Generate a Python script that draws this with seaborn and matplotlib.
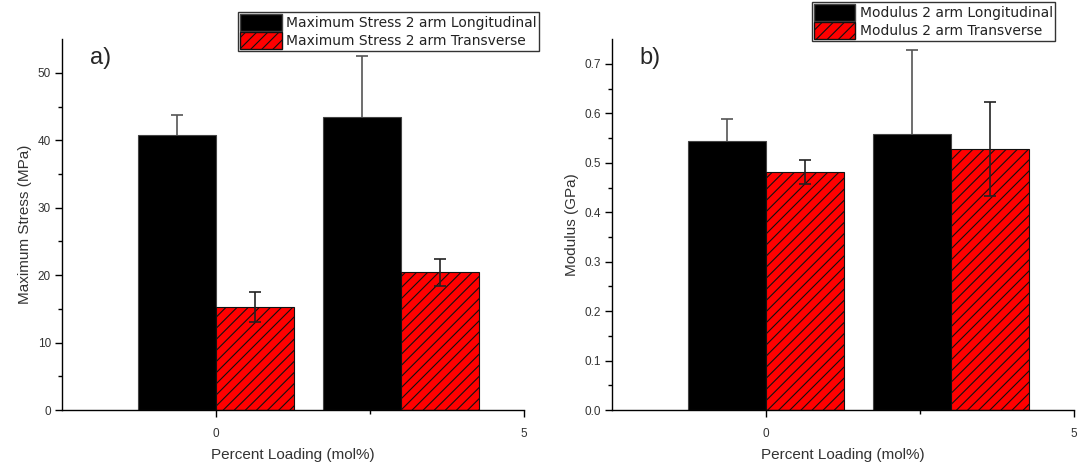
import numpy as np
import pandas as pd
import matplotlib
matplotlib.use("Agg")
import matplotlib.pyplot as plt
import seaborn as sns
from matplotlib.patches import Patch

# data
group_pos = [0, 3]            # where Origin placed the two groups on the loading axis
directions = ["Longitudinal", "Transverse"]

stress_mean = {"Longitudinal": [40.8, 43.5], "Transverse": [15.3, 20.4]}
stress_sd = {"Longitudinal": [3.0, 9.0], "Transverse": [2.2, 2.0]}

modulus_mean = {"Longitudinal": [0.545, 0.559], "Transverse": [0.482, 0.528]}
modulus_sd = {"Longitudinal": [0.043, 0.170], "Transverse": [0.024, 0.095]}

x_ticks = [0, 5]
stress_ticks = [0, 10, 20, 30, 40, 50]
modulus_ticks = [0.0, 0.1, 0.2, 0.3, 0.4, 0.5, 0.6, 0.7]


def to_frame(means, sds):
    rows = []
    for d in directions:
        for p, m, s in zip(group_pos, means[d], sds[d]):
            rows.append({"pos": p, "direction": d, "value": m, "sd": s})
    return pd.DataFrame(rows)


def draw_panel(ax, df, ylim, yticks, ylabel, tag, legend_labels, legend_anchor, fmt):
    sns.barplot(data=df, x="pos", y="value", hue="direction", hue_order=directions,
                palette={"Longitudinal": "black", "Transverse": "red"},
                native_scale=True, width=0.845, errorbar=None, saturation=1,
                edgecolor="#444444", linewidth=0.8, legend=False, ax=ax, zorder=2)

    # hatch the transverse bars and add the error bars from the patch centres
    bars = [p for p in ax.patches]
    n = len(group_pos)
    for i, d in enumerate(directions):
        sub = df[df.direction == d]
        for bar, (_, row) in zip(bars[i * n:(i + 1) * n], sub.iterrows()):
            cx = bar.get_x() + bar.get_width() / 2
            if d == "Transverse":
                bar.set_hatch("///")
                bar.set_edgecolor("#111111")
                ax.errorbar(cx, row.value, yerr=row.sd, fmt="none", ecolor="#222222",
                            elinewidth=1.2, capsize=4, capthick=1.2, zorder=3)
            else:
                # drawn behind the black bar so only the upper half shows
                ax.errorbar(cx, row.value, yerr=row.sd, fmt="none",
                            ecolor="#555555", elinewidth=1.2, capsize=4,
                            capthick=1.2, zorder=1)

    ax.set_xlim(-2.5, 5)
    ax.set_ylim(*ylim)
    ax.set_xticks(x_ticks)
    ax.set_xticklabels([str(t) for t in x_ticks])
    ax.set_xticks([2.5], minor=True)
    ax.set_yticks(yticks)
    ax.set_yticklabels([fmt.format(t) for t in yticks])
    ax.set_yticks([(a + b) / 2 for a, b in zip(yticks[:-1], yticks[1:])], minor=True)
    ax.tick_params(axis="both", which="both", bottom=True, left=True, direction="out",
                   color="black", width=1)
    ax.tick_params(axis="both", which="major", length=5, labelsize=8.5,
                   labelcolor="#333333")
    ax.tick_params(axis="both", which="minor", length=3)
    ax.tick_params(axis="x", which="major", pad=8)
    ax.tick_params(axis="y", which="major", pad=3)
    sns.despine(ax=ax)
    for sp in ["left", "bottom"]:
        ax.spines[sp].set_color("black")
        ax.spines[sp].set_linewidth(1)
    ax.set_xlabel("Percent Loading (mol%)", fontsize=11, color="#333333", labelpad=6)
    ax.set_ylabel(ylabel, fontsize=11, color="#333333")
    ax.text(0.06, 0.98, tag, transform=ax.transAxes, fontsize=17, va="top", ha="left")

    handles = [Patch(facecolor="black", edgecolor="#444444"),
               Patch(facecolor="red", edgecolor="#111111", hatch="///")]
    leg = ax.figure.legend(handles, legend_labels, loc="upper left",
                           bbox_to_anchor=legend_anchor, frameon=True, fancybox=False,
                           edgecolor="black", handlelength=3.0,
                           handleheight=1.5, handletextpad=0.3, labelspacing=0.05,
                           borderpad=0.15, borderaxespad=0,
                           prop={"family": "DejaVu Sans", "size": 10})
    leg.get_frame().set_linewidth(1)
    for t in leg.get_texts():
        t.set_color("#222222")


sns.set_style("white")
plt.rcParams["font.family"] = ["Liberation Sans", "DejaVu Sans"]
plt.rcParams["hatch.linewidth"] = 0.8

fig = plt.figure(figsize=(10.78, 4.67), dpi=100)
ax1 = fig.add_axes([0.0575, 0.122, 0.4286, 0.794])
ax2 = fig.add_axes([0.5677, 0.122, 0.4286, 0.794])

draw_panel(ax1, to_frame(stress_mean, stress_sd), (0, 55), stress_ticks,
           "Maximum Stress (MPa)", "a)",
           ["Maximum Stress 2 arm Longitudinal", "Maximum Stress 2 arm Transverse"],
           (0.2208, 0.974), "{:g}")
draw_panel(ax2, to_frame(modulus_mean, modulus_sd), (0, 0.75), modulus_ticks,
           "Modulus (GPa)", "b)",
           ["Modulus 2 arm Longitudinal", "Modulus 2 arm Transverse"],
           (0.753, 0.996), "{:.1f}")

fig.savefig("out.png", dpi=100)
